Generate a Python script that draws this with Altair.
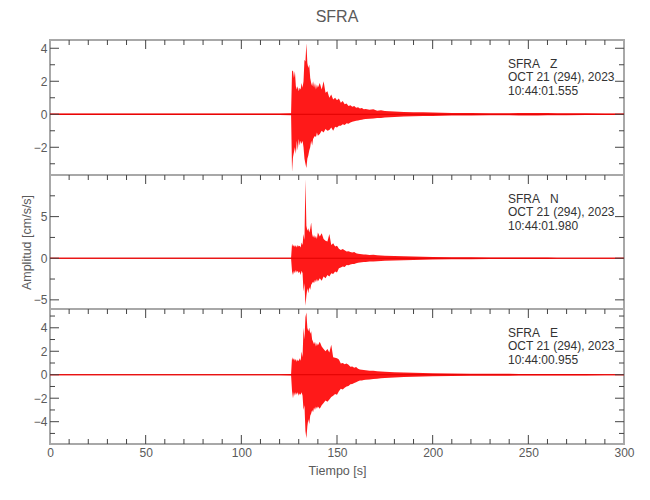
import altair as alt
import pandas as pd

# ---------------- data ----------------
T = [0, 30, 60, 90, 120, 126,
     126.5, 127, 127.5, 128, 128.5, 129, 129.5, 130, 130.5, 131, 131.5, 132, 132.5, 133,
     133.5, 134, 134.5, 135, 135.5, 136, 136.5, 137, 137.5, 138, 138.5, 139, 139.5, 140,
     141, 142, 143, 144, 145, 146, 147, 148, 149, 150, 151, 152, 153, 154, 155,
     156, 157, 158, 159, 160, 161, 162, 163, 164, 165,
     167, 169, 171, 173, 175,
     180, 185, 190, 195, 200, 210, 220, 230, 240, 245, 250, 255, 260, 265, 270, 280, 290, 300]

Z_HI = [0.05, 0.05, 0.05, 0.05, 0.05, 0.06,
        2.6, 2.65, 2.2, 2.6, 1.7, 1.5, 1.7, 1.4, 1.6, 1.5, 1.9, 1.6, 2.0, 3.3,
        3.2, 4.3, 3.1, 2.8, 3.0, 2.2, 1.9, 1.7, 2.0, 1.6, 1.9, 1.5, 1.8, 1.6,
        1.9, 1.5, 2.0, 1.3, 1.4, 1.0, 1.2, 0.9, 1.0, 0.85, 0.95, 0.7, 0.8, 0.6, 0.65,
        0.5, 0.55, 0.45, 0.5, 0.4, 0.42, 0.35, 0.38, 0.3, 0.32,
        0.28, 0.3, 0.22, 0.25, 0.2,
        0.17, 0.14, 0.12, 0.12, 0.1, 0.08, 0.07, 0.06, 0.06, 0.08, 0.08, 0.07, 0.07, 0.06, 0.06, 0.06, 0.05, 0.05]
Z_LO = [-0.05, -0.05, -0.05, -0.05, -0.05, -0.06,
        -3.5, -2.6, -2.3, -2.0, -2.4, -1.6, -2.2, -1.5, -1.9, -1.6, -1.8, -1.6, -2.0, -2.7,
        -3.0, -3.25, -2.7, -2.5, -2.2, -2.0, -1.6, -1.9, -1.5, -1.4, -1.3, -1.4, -1.1, -1.3,
        -1.2, -1.0, -1.1, -0.9, -1.0, -0.95, -0.8, -1.0, -0.75, -0.8, -0.7, -0.7, -0.6, -0.65, -0.55,
        -0.58, -0.5, -0.45, -0.42, -0.4, -0.38, -0.35, -0.33, -0.3, -0.28,
        -0.27, -0.25, -0.23, -0.22, -0.2,
        -0.17, -0.14, -0.12, -0.11, -0.1, -0.08, -0.07, -0.06, -0.06, -0.07, -0.08, -0.07, -0.06, -0.06, -0.06, -0.05, -0.05, -0.05]

N_HI = [0.05, 0.05, 0.05, 0.05, 0.05, 0.06,
        1.75, 1.4, 1.6, 1.35, 1.55, 1.3, 1.6, 1.4, 1.5, 1.3, 1.9, 1.6, 2.9, 2.2,
        9.5, 3.9, 3.3, 3.6, 3.1, 3.5, 4.3, 2.9, 2.5, 2.8, 2.4, 2.7, 2.3, 3.1,
        2.6, 3.0, 2.3, 2.1, 2.0, 2.9, 1.6, 1.8, 1.4, 1.5, 1.15, 1.0, 1.1, 0.95, 0.8,
        0.85, 0.75, 0.7, 0.75, 0.6, 0.55, 0.5, 0.48, 0.45, 0.44,
        0.4, 0.42, 0.35, 0.33, 0.3,
        0.27, 0.24, 0.2, 0.18, 0.16, 0.13, 0.11, 0.1, 0.09, 0.09, 0.08, 0.08, 0.08, 0.07, 0.07, 0.06, 0.06, 0.06]
N_LO = [-0.05, -0.05, -0.05, -0.05, -0.05, -0.06,
        -1.6, -2.0, -1.5, -1.8, -1.4, -1.7, -1.5, -1.8, -1.6, -2.0, -1.5, -1.8, -4.0, -3.0,
        -5.7, -4.5, -3.6, -4.2, -3.5, -3.8, -3.2, -3.0, -2.8, -3.0, -2.6, -2.9, -2.5, -2.8,
        -2.4, -2.7, -2.2, -2.4, -2.0, -2.2, -1.8, -1.9, -1.6, -1.7, -1.2, -1.1, -1.0, -1.05, -0.8,
        -0.85, -0.75, -0.7, -0.7, -0.6, -0.55, -0.5, -0.48, -0.45, -0.44,
        -0.4, -0.38, -0.35, -0.32, -0.3,
        -0.27, -0.24, -0.2, -0.18, -0.16, -0.13, -0.11, -0.1, -0.09, -0.09, -0.08, -0.08, -0.08, -0.07, -0.07, -0.06, -0.06, -0.06]

E_HI = [0.05, 0.05, 0.05, 0.05, 0.05, 0.06,
        1.5, 1.25, 1.4, 1.2, 1.35, 1.1, 1.3, 1.15, 1.4, 1.2, 1.97, 1.5, 4.0, 3.0,
        4.9, 5.3, 4.0, 3.7, 4.0, 3.5, 3.7, 3.0, 2.8, 2.6, 2.8, 2.4, 2.7, 2.5,
        2.8, 2.4, 2.2, 2.0, 2.2, 1.9, 2.55, 1.5, 1.45, 1.4, 1.3, 0.95, 1.0, 0.9, 0.95,
        0.85, 0.67, 0.7, 0.6, 0.65, 0.5, 0.45, 0.42, 0.4, 0.38,
        0.35, 0.33, 0.3, 0.28, 0.26,
        0.22, 0.19, 0.16, 0.14, 0.13, 0.1, 0.09, 0.08, 0.08, 0.07, 0.07, 0.07, 0.06, 0.06, 0.06, 0.06, 0.05, 0.05]
E_LO = [-0.05, -0.05, -0.05, -0.05, -0.05, -0.06,
        -1.4, -2.0, -1.5, -1.8, -1.5, -1.7, -1.5, -1.8, -1.6, -1.7, -1.5, -1.8, -3.0, -2.6,
        -4.8, -5.42, -4.4, -3.8, -4.2, -3.5, -3.3, -3.0, -3.2, -2.8, -3.0, -2.7, -2.9, -2.7,
        -2.9, -2.6, -2.4, -2.2, -2.3, -2.1, -1.9, -1.8, -1.65, -1.7, -1.4, -1.2, -1.25, -1.1, -1.0,
        -0.95, -0.8, -0.78, -0.7, -0.65, -0.55, -0.5, -0.49, -0.45, -0.42,
        -0.4, -0.37, -0.34, -0.3, -0.28,
        -0.24, -0.2, -0.17, -0.15, -0.13, -0.1, -0.09, -0.08, -0.08, -0.07, -0.07, -0.07, -0.06, -0.06, -0.06, -0.06, -0.05, -0.05]

X_LABELS = [0, 50, 100, 150, 200, 250, 300]
X_MAJOR = [50, 100, 150, 200, 250]
X_MINOR = [10, 20, 30, 40, 60, 70, 80, 90, 110, 120, 130, 140, 160, 170, 180, 190,
           210, 220, 230, 240, 260, 270, 280, 290]

Z_LABELS = [-2, 0, 2, 4]
Z_MINOR = [-3, -1, 1, 3]
N_LABELS = [-5, 0, 5]
N_MINOR = [-2.5, 2.5, 7.5]
E_LABELS = [-4, -2, 0, 2, 4]
E_MINOR = [-5, -3, -1, 1, 3, 5]

Z_TEXT = "SFRA\u00a0\u00a0\u00a0Z\nOCT 21 (294), 2023\n10:44:01.555"
N_TEXT = "SFRA\u00a0\u00a0\u00a0N\nOCT 21 (294), 2023\n10:44:01.980"
E_TEXT = "SFRA\u00a0\u00a0\u00a0E\nOCT 21 (294), 2023\n10:44:00.955"

for s in (Z_HI, Z_LO, N_HI, N_LO, E_HI, E_LO):
    assert len(s) == len(T), len(s)

# ---------------- style ----------------
FONT = "Liberation Sans"
GRAY = "#5a5a5a"
TICK = "#444444"
FRAME = "#a8a8a8"
W = 574


def panel(hi, lo, ydom, ylabels, yminor, h, label, bottom, ytitle):
    df = pd.DataFrame({"t": T, "hi": hi, "lo": lo})
    xs = alt.Scale(domain=[0, 300], nice=False, zero=False)
    ys = alt.Scale(domain=ydom, nice=False, zero=False)
    if bottom:
        xax = alt.Axis(values=X_LABELS, ticks=False, domain=False, grid=False,
                       labelFont=FONT, labelFontSize=12, labelColor=GRAY,
                       labelPadding=3, labelFlush=False,
                       title="Tiempo [s]", titleFont=FONT, titleFontSize=12.5,
                       titleFontWeight="normal", titleColor=GRAY, titlePadding=6)
    else:
        xax = None
    yax = alt.Axis(values=ylabels, ticks=False, domain=False, grid=False,
                   labelFont=FONT, labelFontSize=12, labelColor=GRAY,
                   labelPadding=3, labelFlush=False,
                   title=ytitle, titleFont=FONT, titleFontSize=12.5,
                   titleFontWeight="normal", titleColor=GRAY, titlePadding=0)

    def X(field):
        return alt.X(field, scale=xs, axis=xax)

    def Y(field):
        return alt.Y(field, scale=ys, axis=yax)

    area = alt.Chart(df).mark_area(color="#ff0000", opacity=0.9).encode(
        x=X("t:Q"), y=Y("hi:Q"), y2="lo:Q")

    zero = alt.Chart(pd.DataFrame({"v": [0]})).mark_rule(
        color="#e00000", strokeWidth=1).encode(y=Y("v:Q"))

    layers = [area, zero]

    def xt(vals, ln, at_bottom):
        enc = dict(x=X("v:Q"))
        if at_bottom:
            enc.update(y=alt.value(h), y2=alt.value(h - ln))
        else:
            enc.update(y=alt.value(0), y2=alt.value(ln))
        return alt.Chart(pd.DataFrame({"v": vals})).mark_rule(
            color=TICK, strokeWidth=1).encode(**enc)

    def yt(vals, ln, right):
        enc = dict(y=Y("v:Q"))
        if right:
            enc.update(x=alt.value(W), x2=alt.value(W - ln))
        else:
            enc.update(x=alt.value(0), x2=alt.value(ln))
        return alt.Chart(pd.DataFrame({"v": vals})).mark_rule(
            color=TICK, strokeWidth=1).encode(**enc)

    layers += [xt(X_MINOR, 5, False), xt(X_MAJOR, 9, False)]
    if bottom:
        layers += [xt(X_MINOR, 5, True), xt(X_MAJOR, 9, True)]
    layers += [yt(yminor, 5, False), yt(ylabels, 9, False),
               yt(yminor, 5, True), yt(ylabels, 9, True)]

    ann = alt.Chart(pd.DataFrame({"txt": [label]})).mark_text(
        align="left", baseline="top", font=FONT, fontSize=12, color="#333333",
        lineBreak="\n", lineHeight=13.5).encode(
        x=alt.value(458), y=alt.value(18.5), text="txt:N")
    layers.append(ann)

    return alt.layer(*layers).properties(width=W, height=h)


p1 = panel(Z_HI, Z_LO, [-3.68, 4.5], Z_LABELS, Z_MINOR, 135, Z_TEXT, False, None)
p2 = panel(N_HI, N_LO, [-6.1, 10.0], N_LABELS, N_MINOR, 134, N_TEXT, False,
           "Amplitud [cm/s/s]")
p3 = panel(E_HI, E_LO, [-5.9, 5.6], E_LABELS, E_MINOR, 135, E_TEXT, True, None)

chart = alt.vconcat(p1, p2, p3, spacing=0, bounds="flush").properties(
    title=alt.TitleParams("SFRA", font=FONT, fontSize=16, fontWeight="normal",
                          color=GRAY, anchor="middle", frame="group", offset=14),
    padding={"left": 11, "top": 0, "right": 5, "bottom": 5},
).configure_view(stroke=FRAME, strokeWidth=2)

chart.save("out.html", embed_options={"renderer": "svg", "actions": False})
